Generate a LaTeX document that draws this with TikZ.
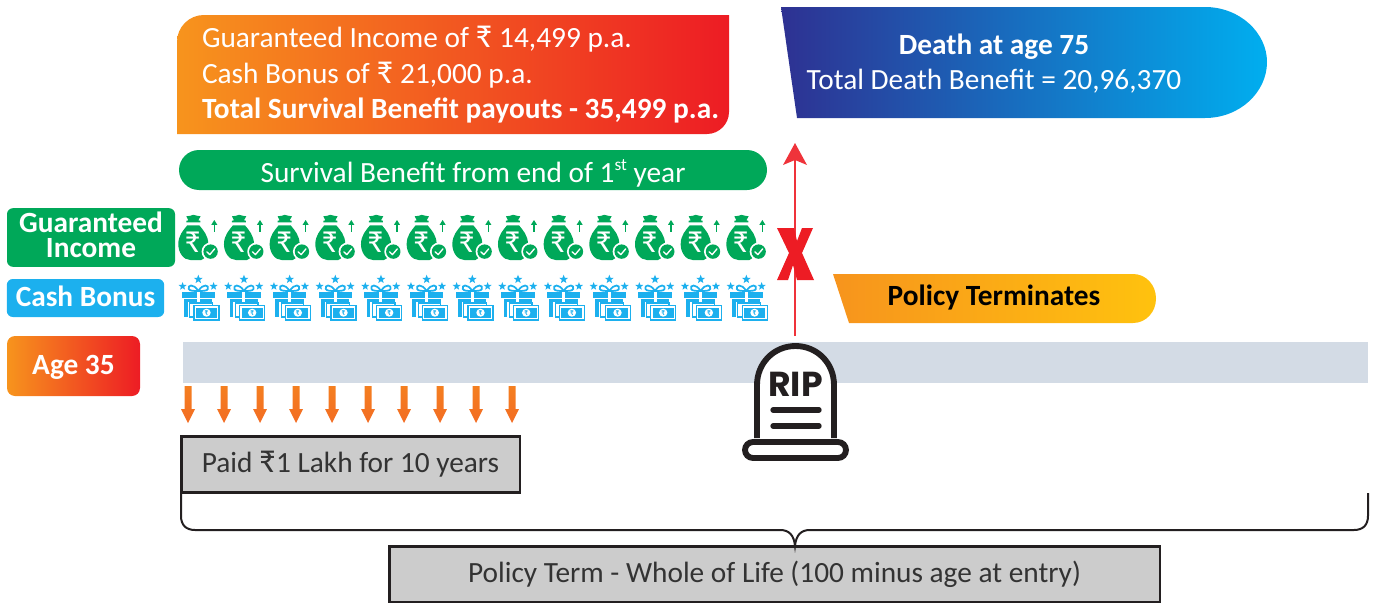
\documentclass[tikz,border=0pt]{standalone}
\usepackage{fontspec}
\setmainfont{Carlito}
\newfontfamily\ripfont{Poppins}
\definecolor{ora}{HTML}{F7941D}
\definecolor{omid}{HTML}{F36C23}
\definecolor{darrow}{HTML}{F47F20}
\definecolor{redd}{HTML}{ED1C24}
\definecolor{yel}{HTML}{FFC20E}
\definecolor{navy}{HTML}{2E3192}
\definecolor{nmid}{HTML}{0072BC}
\definecolor{cya}{HTML}{00AEEF}
\definecolor{grn}{HTML}{00A859}
\definecolor{blu}{HTML}{1CB0EE}
\definecolor{barc}{HTML}{D3DBE5}
\definecolor{boxc}{HTML}{CCCCCC}
\definecolor{ink}{HTML}{231F20}
\definecolor{txt}{HTML}{333333}
\newcommand{\gstar}[3]{\fill[blu,shift={(#1,#2)}] (-90:#3)--(-54:#3*.42)--(-18:#3)--(18:#3*.42)--(54:#3)--(90:#3*.42)--(126:#3)--(162:#3*.42)--(198:#3)--(234:#3*.42)--cycle;}
\newcommand{\rup}{{\fontsize{25}{22}\selectfont ₹}}
\tikzset{
  lbl/.style={inner sep=0,outer sep=0,font=\fontsize{22}{24}\selectfont},
  wlbl/.style={lbl,text=white},
  blbl/.style={wlbl,font=\fontsize{22}{24}\selectfont\bfseries},
  tag/.style={inner sep=0,rounded corners=4.5pt},
  tagtext/.style={inner sep=0,text=white,align=center,font=\fontsize{22}{18.75}\selectfont\bfseries},
  greybox/.style={draw=ink,line width=2pt,fill=boxc,inner sep=0,text=txt,font=\fontsize{22}{24}\selectfont},
  downarrow/.style={top color=darrow,bottom color=omid},
  warm/.style={left color=ora,middle color=omid,right color=redd},
  cool/.style={left color=navy,middle color=nmid,right color=cya},
  bag/.pic={
    \fill[grn] (-6,-13) .. controls (-10,-8) and (-15,-3) .. (-15,6) .. controls (-15,14) and (-10,21.7) .. (-3,21.7) -- (8,21.7) .. controls (12,21) and (15,14) .. (15,6) .. controls (15,-3) and (10,-8) .. (6,-13) -- cycle;
    \fill[grn] (-7,-22) -- (-3,-22.5) -- (0,-23.5) -- (4,-22.5) -- (7.3,-22) -- (5,-18) -- (7,-17.5) -- (7,-16) -- (-7,-16) -- (-7,-17.5) -- (-5,-18) -- cycle;
    \draw[white,line width=.7pt] (-6.5,-15.2) -- (6.5,-15.2);
    \node[text=white,inner sep=0,font=\fontsize{24}{24}\selectfont] at (-.5,3.5) {₹};
    \fill[white] (17.3,13.3) circle (9);
    \fill[grn] (17.3,13.3) circle (7.2);
    \draw[white,line width=1pt,line cap=round,line join=round] (13.5,13.5) -- (16.5,16.3) -- (21.3,10.6);
    \draw[grn,line width=1pt] (21,-6.7) -- (21,-14);
    \fill[grn] (21,-18.3) -- (24,-13.5) -- (18,-13.5) -- cycle;
  },
  gift/.pic={
    \gstar{0}{-20.7}{4.6}
    \gstar{-15.7}{-13.7}{4.2}
    \gstar{15.3}{-13.7}{4.2}
    \draw[blu,line width=1.3pt] (0,-9) .. controls (-5,-17) and (-11,-15) .. (-9.5,-11) .. controls (-9,-9) and (-4,-9) .. (0,-9) .. controls (5,-17) and (11,-15) .. (9.5,-11) .. controls (9,-9) and (4,-9) .. (0,-9);
    \fill[blu] (-16.7,-8.3) rectangle (-1.5,-1.7);
    \fill[blu] (1.5,-8.3) rectangle (16.7,-1.7);
    \fill[blu] (-14.3,-.7) rectangle (-1.5,1.5);
    \fill[blu] (1.5,-.7) rectangle (14,1.5);
    \fill[blu] (-14.3,1.5) rectangle (-10.5,17);
    \draw[blu,line width=.8pt,fill=white] (-8.5,3) rectangle (14,17);
    \draw[blu,line width=.8pt,fill=white] (-4.3,5.5) rectangle (20.7,20);
    \fill[blu] (-2.3,7.5) rectangle (18.7,18);
    \fill[white] (8.2,12.7) ellipse (4.2 and 4);
    \node[text=blu,inner sep=0,font=\fontsize{5.5}{5.5}\selectfont\bfseries] at (8.2,12.7) {₹};
  }
}
\begin{document}
\begin{tikzpicture}[x=0.75pt,y=-0.75pt]
\useasboundingbox (0,0) rectangle (1375,603);
% top boxes
\path[warm] (177,134) -- (177,42) .. controls (177,27) and (189,15) .. (204,15) -- (729,15) -- (729,112) .. controls (729,124) and (719,134) .. (707,134) -- cycle;
\node[wlbl,anchor=base west] (g1) at (202,47) {Guaranteed Income of \rup{} 14,499 p.a.};
\node[wlbl,anchor=base west] (g2) at (202,83) {Cash Bonus of \rup{} 21,000 p.a.};
\node[blbl,anchor=base west] (g3) at (202,118) {Total Survival Benefit payouts - 35,499 p.a.};
\path[cool] (781,7) -- (1205,7) .. controls (1240,7) and (1267,33) .. (1267,62) .. controls (1267,92) and (1240,118) .. (1205,118) -- (797,118) -- cycle;
\node[blbl,anchor=base] (d1) at (994,54) {Death at age 75};
\node[wlbl,anchor=base] (d2) at (994,89) {Total Death Benefit = 20,96,370};
% survival pill
\node[fill=grn,rounded corners=15pt,minimum width=441pt,minimum height=30pt,inner sep=0] (surv) at (473,170) {};
\node[wlbl,anchor=base] (survt) at (473,182) {Survival Benefit from end of 1\raisebox{.38em}{\fontsize{13}{13}\selectfont st} year};
% left labels
\node[tag,fill=grn,minimum width=126pt,minimum height=44pt] (gi) at (91,237.5) {};
\node[tagtext] (git) at (91,234.5) {Guaranteed\\Income};
\node[tag,fill=blu,minimum width=118pt,minimum height=28.5pt] (cb) at (85.5,298) {};
\node[tagtext] (cbt) at (85.5,296) {Cash Bonus};
\path[warm,rounded corners=6pt] (7,336) rectangle (140,396);
\node[blbl,anchor=base] (age) at (73.5,374) {Age 35};
% icons
\foreach \i in {0,...,12}{
  \pic at ({193.3+45.67*\i},238.3) {bag};
  \pic at ({198.3+45.67*\i},300) {gift};
}
% policy terminates
\path[left color=ora,right color=yel] (833,274) -- (1133,274) .. controls (1146,274) and (1156,285) .. (1156,298.5) .. controls (1156,312) and (1146,323) .. (1133,323) -- (849,323) -- cycle;
\node[lbl,anchor=base,font=\fontsize{22}{24}\selectfont\bfseries,text=black] (pt) at (994,305) {Policy Terminates};
% bar
\node[fill=barc,minimum width=888.75pt,minimum height=30.75pt,inner sep=0] (bar) at (775.5,362.5) {};
% red arrow
\coordinate (arrs) at (795,336);
\coordinate (arre) at (795,160);
\draw[redd!90!white,line width=2.2pt] (arrs) -- (arre);
\fill[redd!90!white] (795,143) -- (807,165) -- (795,160) -- (783,165) -- cycle;
\fill[redd] (777,228) -- (794,228) -- (797,241) -- (802,228) -- (813,228) -- (802,253) -- (814,280) -- (797,280) -- (793,265) -- (788,280) -- (777,280) -- (789,253) -- cycle;
% tombstone
\draw[ink,line width=4.4pt,fill=white] (757,438) -- (757,385) .. controls (757,363) and (774,346) .. (795.5,346) .. controls (817,346) and (834,363) .. (834,385) -- (834,438);
\draw[ink,line width=4.4pt,fill=white,rounded corners=6pt] (745,442) rectangle (846,458);
\node[inner sep=0,text=ink,font=\ripfont\bfseries\fontsize{26}{26}\selectfont] (rip) at (795.5,384) {RIP};
\draw[ink,line width=4pt,line cap=round] (773,410) -- (819,410);
\draw[ink,line width=4pt,line cap=round] (773,426) -- (819,426);
% down arrows
\foreach \x in {188,224,260,296,332,368,404,440,476,512}{
  \path[downarrow] (\x-3.5,386) -- (\x+3.5,386) -- (\x+3.5,409) -- (\x+7,409) -- (\x,423) -- (\x-7,409) -- (\x-3.5,409) -- cycle;
}
% boxes
\node[greybox,minimum width=254pt,minimum height=42pt] (paid) at (350.5,464.5) {Paid \rup{}1 Lakh for 10 years};
\coordinate (bl) at (181,493);
\coordinate (br) at (1368,493);
\node[greybox,minimum width=578pt,minimum height=42pt] (term) at (774.5,574.5) {Policy Term - Whole of Life (100 minus age at entry)};
\draw[ink,line width=1.5pt] (bl) -- (181,516) .. controls (181,525) and (186,530) .. (195,530) -- (780,530) .. controls (789,530) and (794,535) .. (795,546) .. controls (796,535) and (801,530) .. (810,530) -- (1354,530) .. controls (1363,530) and (1368,525) .. (1368,516) -- (br);
\end{tikzpicture}
\end{document}
